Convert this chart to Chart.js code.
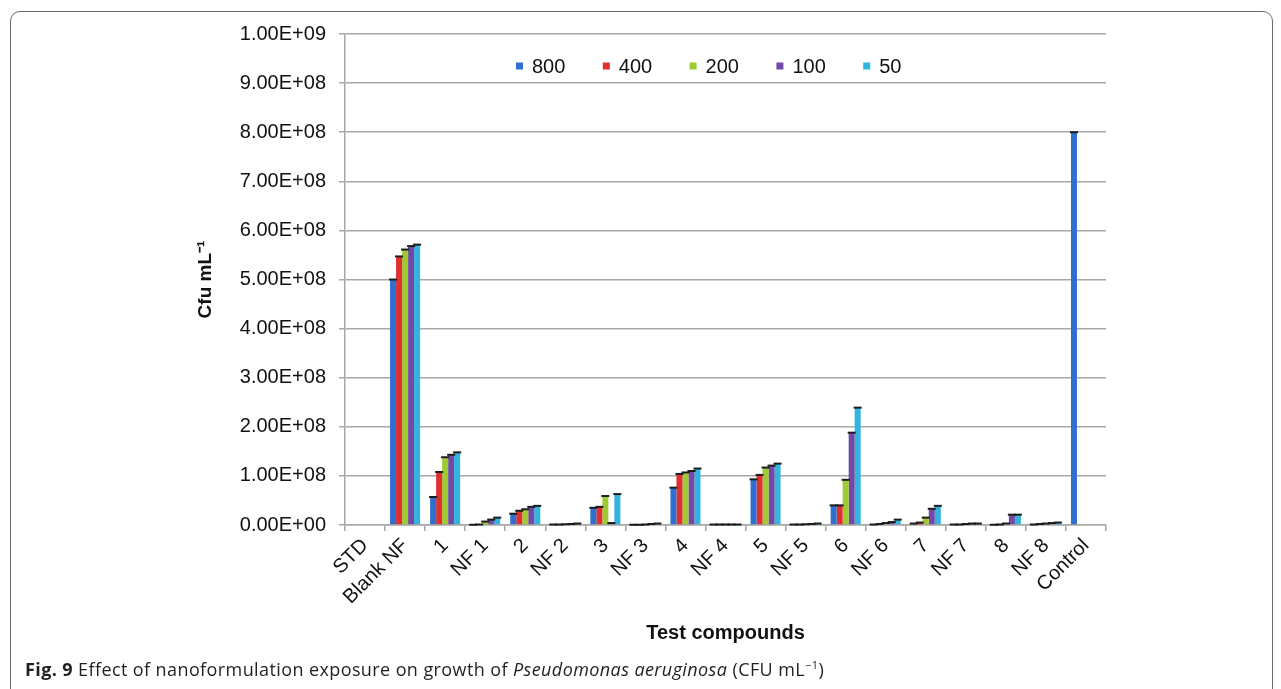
<!DOCTYPE html>
<html>
<head>
<meta charset="utf-8">
<script src="https://cdn.jsdelivr.net/npm/chart.js@4"></script>
<style>
  html, body { margin: 0; padding: 0; background: #fff; }
  #wrap { position: relative; width: 1281px; height: 689px; overflow: hidden; }
  #frame { position: absolute; left: 10px; top: 11px; width: 1263px; height: 700px;
           border: 1.5px solid #6b6b6b; border-radius: 10px; box-sizing: border-box; }
  #c { position: absolute; left: 0; top: 0; }
  #caption { position: absolute; left: 25px; top: 657px; font-family: 'Open Sans', sans-serif;
             font-size: 18px; color: #231f20; white-space: nowrap; letter-spacing: 0.4px; }
  #caption sup { font-size: 11px; }
</style>
</head>
<body>
<div id="wrap">
  <div id="frame"></div>
  <canvas id="c" width="1281" height="689"></canvas>
  <div id="caption"><b>Fig. 9</b> Effect of nanoformulation exposure on growth of <i>Pseudomonas aeruginosa</i> (CFU mL<sup>−1</sup>)</div>
</div>
<script>
// Test compounds on the x axis
const categories = ['STD', 'Blank NF', '1', 'NF 1', '2', 'NF 2', '3', 'NF 3', '4', 'NF 4',
                    '5', 'NF 5', '6', 'NF 6', '7', 'NF 7', '8', 'NF 8', 'Control'];

// Concentration series (legend entries)
const seriesNames = ['800', '400', '200', '100', '50'];

// Cfu per mL for each concentration
const conc800 = [null, 5.00e8, 5.7e7, 5e5, 2.3e7, 1e6, 3.5e7, 5e5, 7.6e7, 1e6,
                 9.3e7, 1e6, 4.0e7, 1e6, 3e6, 1e6, 5e5, 1e6, 8.0e8];
const conc400 = [null, 5.47e8, 1.08e8, 1e6, 2.9e7, 1e6, 3.7e7, 5e5, 1.04e8, 1e6,
                 1.02e8, 1e6, 4.0e7, 2e6, 5e6, 1e6, 1e6, 2e6, null];
const conc200 = [null, 5.61e8, 1.38e8, 7e6, 3.2e7, 1.5e6, 5.9e7, 1e6, 1.07e8, 1e6,
                 1.17e8, 1.5e6, 9.2e7, 4e6, 1.5e7, 2e6, 3e6, 3e6, null];
const conc100 = [null, 5.68e8, 1.43e8, 1.1e7, 3.7e7, 2e6, 4e6, 2e6, 1.10e8, 1e6,
                 1.21e8, 2e6, 1.88e8, 6e6, 3.3e7, 3e6, 2.1e7, 4e6, null];
const conc50  = [null, 5.71e8, 1.48e8, 1.5e7, 3.9e7, 3e6, 6.3e7, 3e6, 1.15e8, 1e6,
                 1.25e8, 3e6, 2.39e8, 1.1e7, 3.9e7, 3e6, 2.1e7, 5e6, null];

const seriesValues = [conc800, conc400, conc200, conc100, conc50];

// Y axis tick labels, bottom to top
const yTickLabels = ['0.00E+00', '1.00E+08', '2.00E+08', '3.00E+08', '4.00E+08', '5.00E+08',
                     '6.00E+08', '7.00E+08', '8.00E+08', '9.00E+08', '1.00E+09'];

const seriesColors = ['#2f6fd0', '#df2f2f', '#9fcb32', '#7149a6', '#2fb5e0'];

const FONT = "'Liberation Sans', Arial, sans-serif";
const gridColor = '#a8a8a8';

// small black caps on top of each bar (error bar ends)
const capPlugin = {
  id: 'barCaps',
  afterDatasetsDraw(chart) {
    const ctx = chart.ctx;
    ctx.save();
    ctx.strokeStyle = '#1c1c1c';
    ctx.lineWidth = 2;
    chart.data.datasets.forEach((ds, di) => {
      const meta = chart.getDatasetMeta(di);
      meta.data.forEach((bar, j) => {
        if (ds.data[j] === null) return;
        const half = bar.width / 2 + 1;
        ctx.beginPath();
        ctx.moveTo(bar.x - half, bar.y);
        ctx.lineTo(bar.x + half, bar.y);
        ctx.stroke();
      });
    });
    ctx.restore();
  }
};

// legend row drawn inside the plot area
const innerLegend = {
  id: 'innerLegend',
  afterDraw(chart) {
    const ctx = chart.ctx;
    const area = chart.chartArea;
    const y = area.top + 32;
    const step = 86.8;
    let x = area.left + 171;
    ctx.save();
    ctx.font = '20px ' + FONT;
    ctx.textBaseline = 'middle';
    ctx.textAlign = 'left';
    chart.data.datasets.forEach((ds) => {
      ctx.fillStyle = ds.backgroundColor;
      ctx.fillRect(x, y - 3.5, 7, 7);
      ctx.fillStyle = '#111';
      ctx.fillText(ds.label, x + 16, y + 1);
      x += step;
    });
    ctx.restore();
  }
};

new Chart(document.getElementById('c'), {
  type: 'bar',
  data: {
    labels: categories,
    datasets: seriesNames.map((name, i) => ({
      label: name,
      data: seriesValues[i],
      backgroundColor: seriesColors[i],
      borderWidth: 0,
      categoryPercentage: 0.75,
      barPercentage: 1.0
    }))
  },
  options: {
    responsive: false,
    animation: false,
    devicePixelRatio: 1,
    layout: { padding: { left: 190, right: 175, top: 34, bottom: 40 } },
    plugins: { legend: { display: false }, tooltip: { enabled: false } },
    scales: {
      x: {
        grid: { drawOnChartArea: false, color: gridColor, lineWidth: 1.5, tickLength: 6 },
        border: { color: gridColor, width: 1.5 },
        ticks: { minRotation: 45, maxRotation: 45, autoSkip: false, padding: 3,
                 font: { family: FONT, size: 20 }, color: '#111' },
        title: { display: true, text: 'Test compounds', color: '#111',
                 font: { family: FONT, size: 20, weight: 'bold' }, padding: { top: 4, bottom: 4 } },
        afterFit(scale) { scale.height = 124; }
      },
      y: {
        min: 0,
        max: 1e9,
        grid: { color: gridColor, lineWidth: 1.5, tickLength: 6 },
        border: { color: gridColor, width: 1.5 },
        ticks: { stepSize: 1e8, padding: 13, color: '#111',
                 font: { family: FONT, size: 20 },
                 callback: (v, i) => yTickLabels[i] },
        title: { display: true, text: 'Cfu mL⁻¹', color: '#111',
                 font: { family: FONT, size: 19, weight: 'bold' }, padding: { top: 4, bottom: 4 } },
        afterFit(scale) { scale.width = 155; }
      }
    }
  },
  plugins: [capPlugin, innerLegend]
});
</script>
</body>
</html>
